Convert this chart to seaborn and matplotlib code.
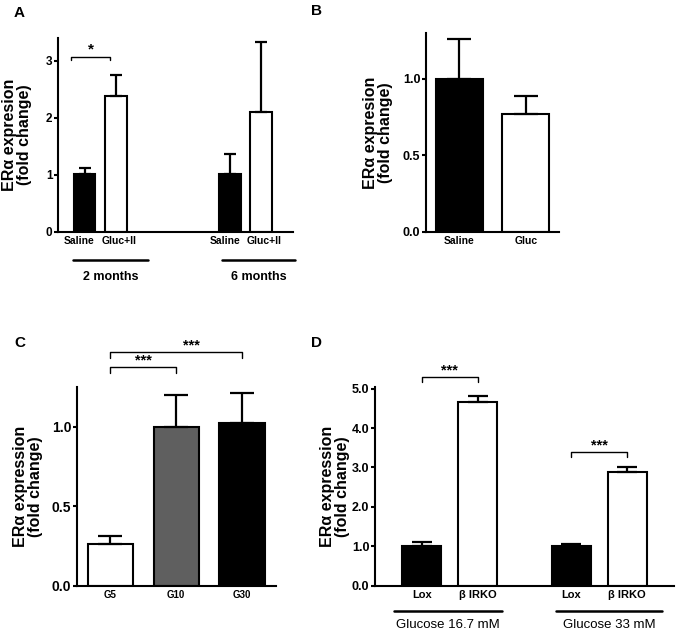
import numpy as np
import pandas as pd
import matplotlib.pyplot as plt
import matplotlib.transforms as mtransforms
from matplotlib.ticker import FormatStrFormatter
import seaborn as sns

# -----------------------------------------------
# Data (mean + SEM, upper error only)
# -----------------------------------------------
# Panel A
a_months = ['2 months', '2 months', '6 months', '6 months']
a_treat = ['Saline', 'Gluc+II', 'Saline', 'Gluc+II']
a_mean = [1.02, 2.39, 1.02, 2.10]
a_sem = [0.11, 0.36, 0.35, 1.23]

# Panel B
b_treat = ['Saline', 'Gluc']
b_mean = [1.00, 0.77]
b_sem = [0.26, 0.12]

# Panel C
c_glucose = ['G5', 'G10', 'G30']
c_mean = [0.26, 1.00, 1.02]
c_sem = [0.05, 0.20, 0.19]

# Panel D
d_glucose = ['Glucose 16.7 mM', 'Glucose 16.7 mM', 'Glucose 33 mM', 'Glucose 33 mM']
d_geno = ['Lox', '\u03b2 IRKO', 'Lox', '\u03b2 IRKO']
d_mean = [1.01, 4.65, 1.01, 2.88]
d_sem = [0.10, 0.17, 0.06, 0.13]

sns.set_style('ticks')
plt.rcParams['font.family'] = ['Liberation Sans', 'DejaVu Sans']
plt.rcParams['font.weight'] = 'bold'
for k in ['text.color', 'axes.labelcolor', 'xtick.color', 'ytick.color', 'axes.edgecolor']:
    plt.rcParams[k] = 'black'
plt.rcParams['axes.linewidth'] = 1.5

W, H = 678, 635
fig = plt.figure(figsize=(W / 100, H / 100), dpi=100)


def px_axes(x0, x1, top, bottom):
    return fig.add_axes([x0 / W, 1 - bottom / H, (x1 - x0) / W, (bottom - top) / H])


def style_axes(ax, ylim, yticks, fmt, ytick_size, label, label_x, tick_size):
    sns.despine(ax=ax)
    ax.set_ylim(*ylim)
    ax.set_yticks(yticks)
    ax.yaxis.set_major_formatter(FormatStrFormatter(fmt))
    ax.tick_params(axis='y', length=3, width=1.5, pad=1, labelsize=ytick_size)
    ax.tick_params(axis='x', length=0, pad=3, labelsize=tick_size)
    for t in ax.get_yticklabels() + ax.get_xticklabels():
        t.set_fontweight('bold')
    ax.set_xlabel('')
    ax.set_ylabel(label, fontsize=11.5, fontweight='bold', linespacing=1.0)
    ax.yaxis.set_label_coords(label_x, 0.5)


def bar_centers(ax):
    patches = sorted(ax.patches, key=lambda p: p.get_x())
    return patches, [p.get_x() + p.get_width() / 2 for p in patches]


def add_errors(ax, means, sems, capsize):
    patches, xs = bar_centers(ax)
    ax.errorbar(xs, means, yerr=[np.zeros(len(sems)), sems], fmt='none',
                ecolor='black', elinewidth=1.6, capsize=capsize, capthick=1.6, zorder=1)
    return xs


def bracket(ax, x1, x2, y, tick, stars, size, frac=0.5, dy=0.0):
    ax.plot([x1, x1, x2, x2], [y - tick, y, y, y - tick], color='black', lw=1,
            clip_on=False)
    ax.text(x1 + (x2 - x1) * frac, y + dy, stars, ha='center', va='bottom',
            fontsize=size, fontweight='bold')


def group_lines(ax, centers, spans, labels, line_y, text_y, size, weight):
    trans = mtransforms.blended_transform_factory(ax.transData, ax.transAxes)
    for c, (lo, hi), lab in zip(centers, spans, labels):
        ax.plot([c + lo, c + hi], [line_y, line_y], color='black', lw=1.8,
                transform=trans, clip_on=False)
        ax.text(c + (lo + hi) / 2, text_y, lab, transform=trans, ha='center',
                va='center', fontsize=size, fontweight=weight)


ylab1 = 'ER\u03b1 expresion\n(fold change)'
ylab2 = 'ER\u03b1 expression\n(fold change)'

# -----------------------------------------------
# A
# -----------------------------------------------
ax = px_axes(58, 293, 38, 232)
df_a = pd.DataFrame({'month': a_months, 'treat': a_treat, 'value': a_mean})
sns.barplot(data=df_a, x='month', y='value', hue='treat', hue_order=['Saline', 'Gluc+II'],
            palette={'Saline': 'black', 'Gluc+II': 'white'}, edgecolor='black',
            linewidth=1.5, width=0.43, gap=0.3, errorbar=None, legend=False, ax=ax)
xs = add_errors(ax, a_mean, a_sem, 4.3)
# labels sit a little apart from the bar centres in the original
ax.set_xticks([x + d for x, d in zip(xs, [-0.035, 0.02, -0.035, 0.02])])
ax.set_xticklabels(a_treat)
ax.set_xlim(-0.29, 1.326)
style_axes(ax, (0, 3.4), [0, 1, 2, 3], '%d', 8.5, ylab1, -0.111, 7.5)
bracket(ax, xs[0] - 0.09, xs[1] - 0.04, 3.07, 0.06, '*', 11, dy=0.0)
group_lines(ax, [0, 1], [(-0.19, 0.33), (-0.16, 0.34)], ['2 months', '6 months'],
            -0.144, -0.232, 9, 'bold')

# -----------------------------------------------
# B
# -----------------------------------------------
ax = px_axes(426, 559, 33, 232)
sns.barplot(x=b_treat, y=b_mean, hue=b_treat, palette=['black', 'white'],
            edgecolor='black', linewidth=1.5, width=0.7, legend=False, ax=ax)
add_errors(ax, b_mean, b_sem, 8.3)
ax.set_xlim(-0.5, 1.5)
style_axes(ax, (0, 1.3), [0, 0.5, 1.0], '%.1f', 9, ylab1, -0.248, 7.5)

# -----------------------------------------------
# C
# -----------------------------------------------
ax = px_axes(77, 276, 386.7, 585.7)
sns.barplot(x=c_glucose, y=c_mean, hue=c_glucose, palette=['white', '#5f5f5f', 'black'],
            edgecolor='black', linewidth=1.5, width=0.69, legend=False, ax=ax)
xs = add_errors(ax, c_mean, c_sem, 8.3)
ax.set_xlim(-0.51, 2.52)
style_axes(ax, (0, 1.25), [0, 0.5, 1.0], '%.1f', 10, ylab2, -0.171, 7)
bracket(ax, xs[0], xs[1], 1.371, 0.035, '***', 10.5)
bracket(ax, xs[0], xs[2], 1.468, 0.035, '***', 10.5, frac=0.62)

# -----------------------------------------------
# D
# -----------------------------------------------
ax = px_axes(375, 674, 386.7, 585.7)
df_d = pd.DataFrame({'glucose': d_glucose, 'geno': d_geno, 'value': d_mean})
sns.barplot(data=df_d, x='glucose', y='value', hue='geno', hue_order=['Lox', '\u03b2 IRKO'],
            palette={'Lox': 'black', '\u03b2 IRKO': 'white'}, edgecolor='black',
            linewidth=1.5, width=0.748, gap=0.3, errorbar=None, legend=False, ax=ax)
xs = add_errors(ax, d_mean, d_sem, 7.2)
ax.set_xticks(xs)
ax.set_xticklabels(d_geno)
ax.set_xlim(-0.5, 1.5)
style_axes(ax, (0, 5.05), [0, 1, 2, 3, 4, 5], '%.1f', 9, ylab2, -0.084, 8)
bracket(ax, xs[0], xs[1], 5.29, 0.13, '***', 10.5)
bracket(ax, xs[2], xs[3], 3.39, 0.13, '***', 10.5)
group_lines(ax, [0, 1], [(-0.37, 0.35), (-0.29, 0.42)],
            ['Glucose 16.7 mM', 'Glucose 33 mM'], -0.127, -0.198, 9.5, 'normal')

# panel letters
for letter, (x, y) in zip('ABCD', [(19, 13), (316, 11), (20, 343), (316, 343)]):
    fig.text(x / W, 1 - y / H, letter, ha='center', va='center', fontsize=11,
             fontweight='bold')

plt.savefig('out.png', dpi=100)
print("Saved: out.png")
